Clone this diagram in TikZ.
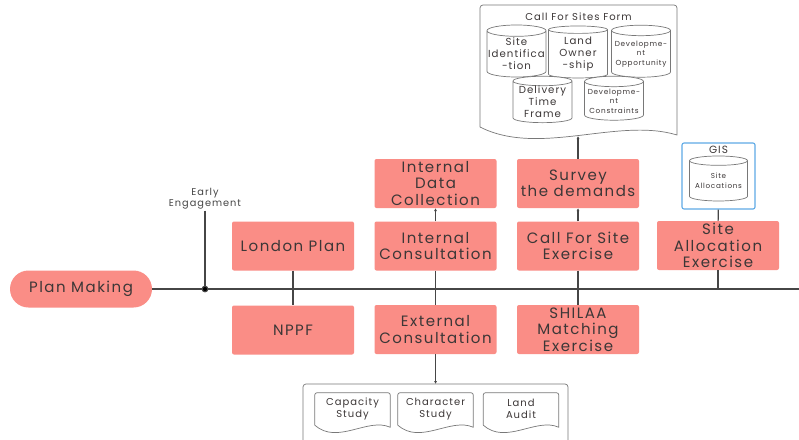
\documentclass[tikz,border=0pt]{standalone}
\usepackage{fontspec}
\setmainfont{Poppins}[LetterSpace=10]
\usetikzlibrary{arrows.meta,shapes.geometric,calc}
\definecolor{salmon}{RGB}{250,141,134}
\definecolor{ink}{RGB}{60,55,55}
\definecolor{wire}{RGB}{70,70,70}
\definecolor{frame}{RGB}{120,120,120}
\definecolor{gisblue}{RGB}{95,170,230}
\newcommand\docframe[1]{%
  \draw[docline] let \p1=(#1.north west), \p2=(#1.south east), \n1={0.3*(\x2-\x1)} in
    (\x1,\y2) [rounded corners=2pt] -- (\x1,\y1) -- (\x2,\y1) [sharp corners] -- (\x2,\y2-2pt)
    .. controls (\x2-\n1,\y2+8pt) and (\x1+\n1,\y2-20pt) .. (\x1,\y2);}
\tikzset{
  box/.style={rectangle, rounded corners=2pt, fill=salmon, text=ink, minimum width=122pt,
    minimum height=49pt, inner sep=1pt, align=center, font=\fontsize{15}{16.5}\selectfont},
  pill/.style={box, rounded corners=18.5pt, minimum width=142pt, minimum height=37pt},
  wire/.style={draw=wire, line width=1.1pt},
  arr/.style={wire, -{Latex[length=3pt,width=3pt]}},
  docline/.style={draw=frame, line width=0.7pt},
  cyl/.style={cylinder, shape border rotate=90, aspect=0.2, draw=frame, line width=0.7pt,
    fill=white, text=ink, align=center, inner sep=0pt, minimum width=59pt, minimum height=52pt,
    font=\fontsize{10.2}{12}\selectfont},
  cylsmall/.style={cyl, font=\fontsize{7.3}{9.5}\selectfont},
  smalldoc/.style={rectangle, minimum width=75pt, minimum height=32pt, inner sep=0pt,
    align=center, text=ink, font=\fontsize{10}{12.5}\selectfont},
}
\begin{document}
\begin{tikzpicture}[x=1pt,y=-1pt]
\path[use as bounding box, fill=white] (0,0) rectangle (799,439);

% main stem
\node[pill] (pm) at (81,289) {Plan Making};
\coordinate (mend) at (799,289);
\draw[wire] (pm.east) -- (mend);

% early engagement
\node[text=wire, align=center, inner sep=1pt, font=\fontsize{9.8}{11}\selectfont] (early) at (205,199) {Early\\Engagement};
\coordinate (ej) at (205,289);
\draw[wire] (early.south) -- (ej);
\fill[wire] (ej) circle (2.8pt);

% boxes
\node[box] (lp) at (293,246) {London Plan};
\node[box] (nppf) at (293,330) {NPPF};
\node[box] (idc) at (435.5,183.5) {Internal\\Data\\Collection};
\node[box] (ic) at (435.5,246) {Internal\\Consultation};
\node[box] (ec) at (435.5,329.5) {External\\Consultation};
\node[box] (sur) at (578,183.5) {Survey\\the demands};
\node[box] (cfs) at (578,246) {Call For Site\\Exercise};
\node[box] (shl) at (578,329.5) {SHILAA\\Matching\\Exercise};
\node[box] (sae) at (718,245.5) {Site\\Allocation\\Exercise};

% GIS
\node[rectangle, rounded corners=2pt, draw=gisblue, line width=1.1pt, minimum width=73pt, minimum height=66pt] (gis) at (718.5,176) {};
\node[text=ink, font=\fontsize{10.5}{12}\selectfont] (gist) at (718.5,150) {GIS};
\node[cylsmall, font=\fontsize{7.2}{9.5}\selectfont, minimum width=58pt, minimum height=45pt] (gcyl) at (718.5,181) {Site\\Allocations};
\coordinate (saej) at (718,289);

% Call for sites form
\draw[docline] (480,127) [rounded corners=3pt] -- (480,5) -- (677,5) [sharp corners] -- (677,135)
  .. controls (618,117) and (539,157) .. (480,127);
\node[text=ink, font=\fontsize{10}{11}\selectfont] (formt) at (578.5,17) {Call For Sites Form};
\coordinate (formbot) at (578,136);
\node[cyl] (c1) at (516.5,54) {Site\\Identifica\\-tion};
\node[cyl] (c2) at (578,54) {Land\\Owner\\-ship};
\node[cylsmall, minimum width=59pt, minimum height=52pt] (c3) at (641,54) {Developme-\\nt\\Opportunity};
\node[cyl, minimum height=44pt] (c4) at (542.5,102) {Delivery\\Time\\Frame};
\node[cylsmall, minimum width=59pt, minimum height=44pt] (c5) at (614,101) {Developme-\\nt\\Constraints};

% bottom container
\draw[docline] (303,440) [rounded corners=3pt] -- (303,384) -- (568,384) [sharp corners] -- (568,440);
\coordinate (botin) at (435.5,384);
\node[smalldoc] (cap) at (352.5,409) {Capacity\\Study};
\node[smalldoc] (chr) at (435.5,409) {Character\\Study};
\node[smalldoc] (aud) at (521,409) {Land\\Audit};
\docframe{cap}\docframe{chr}\docframe{aud}

% connectors
\draw[wire] (lp) -- (nppf);
\draw[arr] (ic) -- (idc);
\draw[wire] (ic) -- (ec);
\draw[arr] (ec) -- (botin);
\draw[arr] (cfs) -- (sur);
\draw[wire] (cfs) -- (shl);
\draw[arr] (sur) -- (formbot);
\draw[wire] (gis) -- (sae);
\draw[wire] (sae) -- (saej);
\end{tikzpicture}
\end{document}
